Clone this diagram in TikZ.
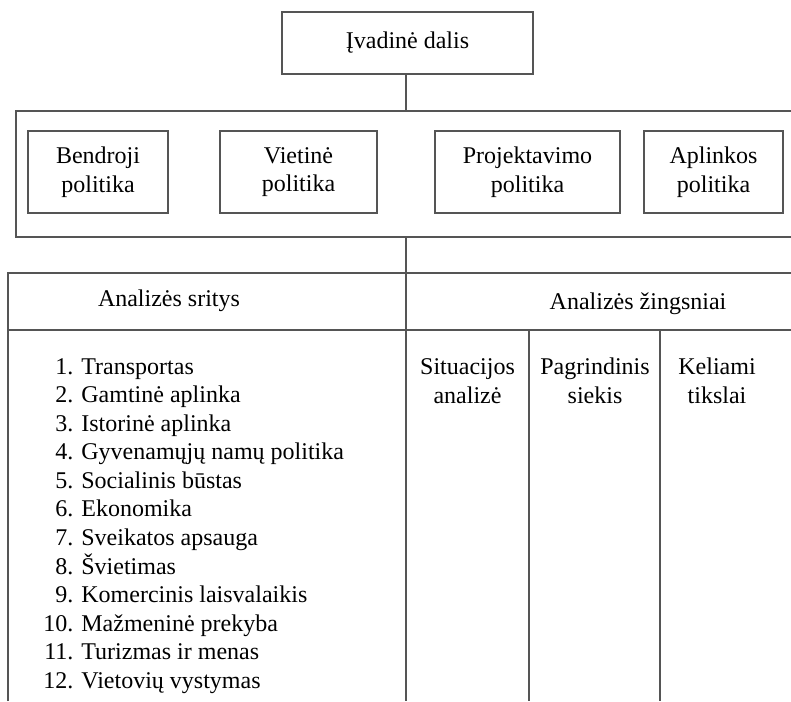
\documentclass[tikz,border=0pt]{standalone}
\usepackage{fontspec}
\setmainfont{Liberation Serif}
\usetikzlibrary{positioning}
\definecolor{lin}{RGB}{85,85,85}
\tikzset{
  pbox/.style={rectangle,draw=lin,line width=0.6pt,align=center,
    minimum width=#1,minimum height=41pt,inner sep=2pt},
  pbox/.default=70pt,
  rule/.style={draw=lin,line width=0.6pt},
  lbl/.style={align=center,inner sep=0pt},
}

\begin{document}
\begin{tikzpicture}[x=0.5pt,y=-0.5pt,font=\fontsize{12}{14.25}\selectfont]
  \useasboundingbox (0,0) rectangle (791,701);

    % ── Intro ──────────────────────────────────────────────────────────────
    \node[pbox=125.5pt,minimum height=31pt] (intro) at (407.5,43) {Įvadinė dalis};
    \coordinate (ftop) at (406,111);
    \draw[rule] (ftop)--(ftop|-intro.south);

    % ── Policies frame ─────────────────────────────────────────────────────
    \draw[rule] (791,111)--(16,111)--(16,237)--(791,237);
    \node[pbox=70pt]   (bend) at (98,172)    {Bendroji\\politika};
    \node[pbox=78.5pt] (viet) at (298.5,172) {Vietinė\\politika};
    \node[pbox=92.5pt] (proj) at (527.5,172) {Projektavimo\\politika};
    \node[pbox=69.5pt] (apl)  at (713.5,172) {Aplinkos\\politika};

    % ── Analysis table ─────────────────────────────────────────────────────
    \draw[rule] (8,701)--(8,273)--(791,273);
    \draw[rule] (7,330)--(791,330);
    \draw[rule] (406,237)--(406,701);
    \draw[rule] (529,330)--(529,701);
    \draw[rule] (660,330)--(660,701);

    \node[lbl,anchor=base] (areas) at (169,306) {Analizės sritys};
    \node[lbl,anchor=base] (steps) at (638,309) {Analizės žingsniai};

    \node[lbl,anchor=base west] (list) at (43,374) {%
      \begin{tabular}[t]{@{}r@{ }l@{}}
        1.  & Transportas\\
        2.  & Gamtinė aplinka\\
        3.  & Istorinė aplinka\\
        4.  & Gyvenamųjų namų politika\\
        5.  & Socialinis būstas\\
        6.  & Ekonomika\\
        7.  & Sveikatos apsauga\\
        8.  & Švietimas\\
        9.  & Komercinis laisvalaikis\\
        10. & Mažmeninė prekyba\\
        11. & Turizmas ir menas\\
        12. & Vietovių vystymas
      \end{tabular}};

    % two-line heads: base = second line
    \node[lbl,anchor=base] (sit)  at (467.5,403) {Situacijos\\analizė};
    \node[lbl,anchor=base] (goal) at (595,403)   {Pagrindinis\\siekis};
    \node[lbl,anchor=base] (aims) at (717,403)   {Keliami\\tikslai};

  \end{tikzpicture}
\end{document}
